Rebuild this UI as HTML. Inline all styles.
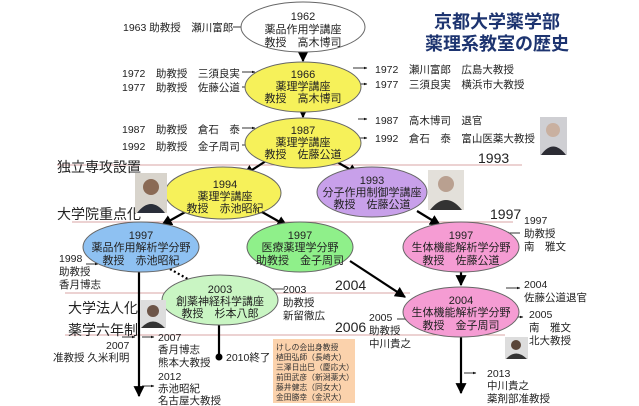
<!DOCTYPE html>
<html><head><meta charset="utf-8"><style>
body{margin:0;background:#fff}
svg{display:block}
text{font-family:"Liberation Sans","Noto Sans CJK JP",sans-serif;font-size:10.5px;fill:#222}
.n{text-anchor:middle;font-size:11px}
.l{font-size:14px}
.o{font-size:7.8px;fill:#333}
</style></head><body>
<svg width="639" height="406" viewBox="0 0 639 406">
<defs>
<marker id="a" viewBox="0 0 10 10" refX="9" refY="5" markerWidth="5" markerHeight="5" orient="auto"><path d="M0,0L10,5L0,10z" fill="#000"/></marker>
<marker id="s" viewBox="0 0 10 10" refX="9" refY="5" markerWidth="4" markerHeight="4" orient="auto"><path d="M0,1L10,5L0,9z" fill="#000"/></marker>
</defs>
<g stroke="#d9a6a6" stroke-width="1">
<line x1="57" y1="165" x2="522" y2="165"/>
<line x1="72" y1="222" x2="513" y2="222"/>
<line x1="65" y1="293" x2="410" y2="293"/>
<line x1="65" y1="335" x2="505" y2="335"/>
</g>
<text class="l" x="57" y="172">独立専攻設置</text>
<text class="l" x="57" y="219">大学院重点化</text>
<text class="l" x="68" y="313">大学法人化</text>
<text class="l" x="68" y="335">薬学六年制</text>
<text class="l" x="478" y="163">1993</text>
<text class="l" x="490" y="219">1997</text>
<text class="l" x="335" y="290">2004</text>
<text class="l" x="335" y="332">2006</text>
<text x="497" y="28" style="font-size:18px;font-weight:bold;fill:#1d3470;text-anchor:middle">京都大学薬学部</text>
<text x="497" y="50" style="font-size:18px;font-weight:bold;fill:#1d3470;text-anchor:middle">薬理系教室の歴史</text>
<g stroke="#000" stroke-width="2.2" fill="none">
<line x1="303" y1="52" x2="303" y2="61" marker-end="url(#a)"/>
<line x1="303" y1="112" x2="303" y2="117" marker-end="url(#a)"/>
<line x1="266" y1="161" x2="244" y2="175" marker-end="url(#a)"/>
<line x1="337" y1="162" x2="358" y2="174" marker-end="url(#a)"/>
<line x1="187" y1="211" x2="162" y2="225" marker-end="url(#a)"/>
<line x1="262" y1="212" x2="287" y2="226" marker-end="url(#a)"/>
<line x1="417" y1="211" x2="440" y2="225" marker-end="url(#a)"/>
<line x1="461" y1="272" x2="461" y2="285" marker-end="url(#a)"/>
<line x1="350" y1="261" x2="405" y2="297" marker-end="url(#a)"/>
<line x1="139" y1="272" x2="139" y2="396" marker-end="url(#a)"/>
<line x1="461" y1="337" x2="461" y2="393" marker-end="url(#a)"/>
<line x1="219" y1="325" x2="219" y2="356"/>
<line x1="170" y1="269" x2="193" y2="282" stroke-dasharray="2,2.5"/>
</g>
<circle cx="219" cy="357" r="3.5" fill="#000"/>
<g stroke="#000" stroke-width="0.8" fill="none">
<line x1="233" y1="27" x2="246" y2="27" marker-end="url(#s)"/>
<line x1="242" y1="72" x2="255" y2="72" marker-end="url(#s)"/>
<line x1="242" y1="87" x2="252" y2="87" marker-end="url(#s)"/>
<line x1="242" y1="128" x2="255" y2="128" marker-end="url(#s)"/>
<line x1="242" y1="145" x2="252" y2="145" marker-end="url(#s)"/>
<line x1="353" y1="68" x2="367" y2="68" marker-end="url(#s)"/>
<line x1="355" y1="84" x2="367" y2="84" marker-end="url(#s)"/>
<line x1="358" y1="119" x2="367" y2="119" marker-end="url(#s)"/>
<line x1="358" y1="138" x2="367" y2="138" marker-end="url(#s)"/>
<line x1="86" y1="264" x2="98" y2="264" marker-end="url(#s)"/>
<line x1="285" y1="289" x2="267" y2="289" marker-end="url(#s)"/>
<line x1="520" y1="233" x2="506" y2="233" marker-end="url(#s)"/>
<line x1="506" y1="288" x2="520" y2="288" marker-end="url(#s)"/>
<line x1="512" y1="317" x2="523" y2="317" marker-end="url(#s)"/>
<line x1="397" y1="319" x2="408" y2="319" marker-end="url(#s)"/>
<line x1="122" y1="337" x2="135" y2="337" marker-end="url(#s)"/>
<line x1="142" y1="337" x2="154" y2="337" marker-end="url(#s)"/>
<line x1="142" y1="386" x2="154" y2="386" marker-end="url(#s)"/>
<line x1="464" y1="373" x2="476" y2="373" marker-end="url(#s)"/>
</g>
<g stroke="#666" stroke-width="1">
<ellipse cx="303" cy="27" rx="62" ry="25" fill="#fff"/>
<ellipse cx="303" cy="87" rx="58" ry="25" fill="#f6f15a"/>
<ellipse cx="303" cy="143" rx="58" ry="25" fill="#f6f15a"/>
<ellipse cx="223" cy="193" rx="58" ry="26" fill="#f6f15a"/>
<ellipse cx="372" cy="192" rx="55" ry="25" fill="#c8a0ea"/>
<ellipse cx="141" cy="247" rx="58" ry="25" fill="#8ec1f2"/>
<ellipse cx="300" cy="247" rx="53" ry="25" fill="#8ff08a"/>
<ellipse cx="461" cy="247" rx="58" ry="25" fill="#f59cd3"/>
<ellipse cx="220" cy="300" rx="58" ry="25" fill="#c9f5c3"/>
<ellipse cx="461" cy="312" rx="58" ry="25" fill="#f59cd3"/>
</g>
<text class="n" x="303" y="20">1962</text><text class="n" x="303" y="33">薬品作用学講座</text><text class="n" x="303" y="46">教授　高木博司</text>
<text class="n" x="303" y="78">1966</text><text class="n" x="303" y="90">薬理学講座</text><text class="n" x="303" y="102">教授　高木博司</text>
<text class="n" x="303" y="134">1987</text><text class="n" x="303" y="146">薬理学講座</text><text class="n" x="303" y="158">教授　佐藤公道</text>
<text class="n" x="225" y="188">1994</text><text class="n" x="225" y="200">薬理学講座</text><text class="n" x="225" y="212">教授　赤池昭紀</text>
<text class="n" x="372" y="184">1993</text><text class="n" x="372" y="196">分子作用制御学講座</text><text class="n" x="372" y="208">教授　佐藤公道</text>
<text class="n" x="141" y="239">1997</text><text class="n" x="141" y="251">薬品作用解析学分野</text><text class="n" x="141" y="264">教授　赤池昭紀</text>
<text class="n" x="300" y="239">1997</text><text class="n" x="300" y="251">医療薬理学分野</text><text class="n" x="300" y="264">助教授　金子周司</text>
<text class="n" x="461" y="239">1997</text><text class="n" x="461" y="251">生体機能解析学分野</text><text class="n" x="461" y="264">教授　佐藤公道</text>
<text class="n" x="220" y="293">2003</text><text class="n" x="220" y="305">創薬神経科学講座</text><text class="n" x="220" y="317">教授　杉本八郎</text>
<text class="n" x="461" y="304">2004</text><text class="n" x="461" y="316">生体機能解析学分野</text><text class="n" x="461" y="329">教授　金子周司</text>
<text x="123" y="31">1963 助教授　瀬川富郎</text>
<text x="122" y="77">1972　助教授　三須良実</text>
<text x="122" y="91">1977　助教授　佐藤公道</text>
<text x="122" y="133">1987　助教授　倉石　泰</text>
<text x="122" y="150">1992　助教授　金子周司</text>
<text x="375" y="73">1972　瀬川富郎　広島大教授</text>
<text x="375" y="88">1977　三須良実　横浜市大教授</text>
<text x="375" y="124">1987　高木博司　退官</text>
<text x="375" y="142">1992　倉石　泰　富山医薬大教授</text>
<text x="59" y="262">1998</text><text x="59" y="275">助教授</text><text x="59" y="288">香月博志</text>
<text x="283" y="293">2003</text><text x="283" y="306">助教授</text><text x="283" y="319">新留徹広</text>
<text x="524" y="224">1997</text><text x="524" y="237">助教授</text><text x="524" y="250">南　雅文</text>
<text x="524" y="288">2004</text><text x="524" y="301">佐藤公道退官</text>
<text x="529" y="318">2005</text><text x="529" y="331">南　雅文</text><text x="529" y="344">北大教授</text>
<text x="369" y="321">2005</text><text x="369" y="334">助教授</text><text x="369" y="347">中川貴之</text>
<text x="106" y="349">2007</text><text x="53" y="361">准教授 久米利明</text>
<text x="158" y="341">2007</text><text x="158" y="353">香月博志</text><text x="158" y="366">熊本大教授</text>
<text x="226" y="361">2010終了</text>
<text x="158" y="380">2012</text><text x="158" y="392">赤池昭紀</text><text x="158" y="404">名古屋大教授</text>
<text x="487" y="377">2013</text><text x="487" y="389">中川貴之</text><text x="487" y="402">薬剤部准教授</text>
<rect x="273" y="339" width="82" height="64" fill="#fbd2ac"/>
<text class="o" x="276" y="350">けしの会出身教授</text>
<text class="o" x="276" y="360">植田弘師（長崎大）</text>
<text class="o" x="276" y="370">三澤日出巳（慶応大）</text>
<text class="o" x="276" y="380">前田武彦（新潟薬大）</text>
<text class="o" x="276" y="390">藤井健志（同女大）</text>
<text class="o" x="276" y="400">金田勝幸（金沢大）</text>
<g>
<rect x="135" y="173" width="32" height="40" fill="#d8d4cc"/><circle cx="151" cy="187" r="8" fill="#8a6a55"/><path d="M137,213 q14,-18 28,0z" fill="#2a2f3a"/>
<rect x="428" y="170" width="36" height="40" fill="#e3e0da"/><circle cx="446" cy="184" r="8" fill="#b9a090"/><path d="M430,210 q16,-20 32,0z" fill="#333"/>
<rect x="540" y="117" width="27" height="38" fill="#cfcfd3"/><circle cx="553" cy="130" r="7" fill="#c9b0a0"/><path d="M541,155 q12,-17 25,0z" fill="#2c2c34"/>
<rect x="140" y="300" width="26" height="28" fill="#ddd"/><circle cx="153" cy="311" r="6" fill="#6d5548"/><path d="M141,328 q12,-13 24,0z" fill="#333"/>
<rect x="505" y="337" width="23" height="22" fill="#ddd"/><circle cx="516" cy="345" r="5" fill="#5a4538"/><path d="M506,359 q10,-11 21,0z" fill="#333"/>
</g>
</svg>
</body></html>
